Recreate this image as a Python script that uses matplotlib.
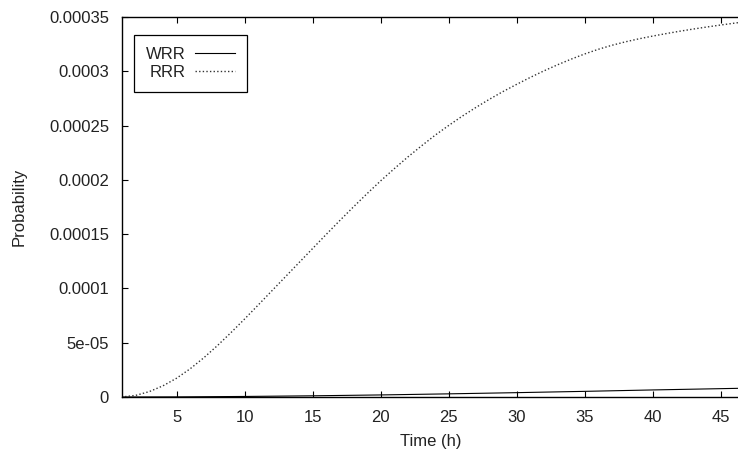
import matplotlib
matplotlib.use("Agg")
import matplotlib.pyplot as plt

# Values (time in hours, probability in units of 1e-5)
rrr_time = [0.95, 2, 3, 4, 5, 6, 7, 8, 9, 10, 11, 12, 13, 14, 15, 16, 17, 18,
            19, 20, 21, 22, 23, 24, 25, 26, 27, 28, 29, 30, 31, 32, 33, 34,
            35, 36, 37, 38, 39, 40, 41, 42, 43, 44, 45, 46.36]
rrr_prob_e5 = [0.0, 0.15, 0.5, 1.03, 1.73, 2.6, 3.61, 4.73, 5.93, 7.18,
               8.47, 9.77, 11.07, 12.37, 13.67, 14.97, 16.25, 17.5, 18.72,
               19.9, 21.02, 22.1, 23.12, 24.1, 25.0, 25.86, 26.66, 27.42,
               28.13, 28.79, 29.43, 30.03, 30.59, 31.11, 31.59, 32.02, 32.39,
               32.71, 32.99, 33.24, 33.47, 33.69, 33.89, 34.08, 34.26, 34.49]

wrr_time = [0.95, 5, 10, 15, 20, 25, 30, 35, 40, 46.36]
wrr_prob_e5 = [0.0, 0.01, 0.05, 0.11, 0.19, 0.29, 0.40, 0.52, 0.65, 0.80]

x_ticks = [5, 10, 15, 20, 25, 30, 35, 40, 45]
y_ticks = [0, 5e-5, 1e-4, 1.5e-4, 2e-4, 2.5e-4, 3e-4, 3.5e-4]
y_tick_labels = ["0", "5e-05", "0.0001", "0.00015", "0.0002", "0.00025",
                 "0.0003", "0.00035"]

text_color = "#222222"
plt.rcParams["font.family"] = ["Liberation Sans", "DejaVu Sans"]
plt.rcParams["font.size"] = 12

W, H = 738, 459
fig = plt.figure(figsize=(W / 100, H / 100), dpi=100)
ax = fig.add_axes([121.5 / W, (H - 397) / H, (739 - 121.5) / W, (397 - 17) / H])

ax.plot(wrr_time, [v * 1e-5 for v in wrr_prob_e5], color="black", lw=0.8,
        label="WRR")
ax.plot(rrr_time, [v * 1e-5 for v in rrr_prob_e5], color="#333333", lw=1.0,
        linestyle=(0, (1, 1.6)), label="RRR")

ax.set_xlim(rrr_time[0], rrr_time[-1])
ax.set_ylim(0, 3.5e-4)
ax.set_xticks(x_ticks)
ax.set_yticks(y_ticks)
ax.set_yticklabels(y_tick_labels)

ax.tick_params(direction="in", length=4.3, width=0.8, colors="black",
               labelcolor=text_color, top=True, right=False, pad=9)
ax.spines["right"].set_visible(False)
for s in ("left", "bottom", "top"):
    ax.spines[s].set_linewidth(1.0)

ax.set_xlabel("Time (h)", color=text_color, labelpad=7)
ax.set_ylabel("Probability", color=text_color, labelpad=16)

leg = ax.legend(loc="upper left", bbox_to_anchor=(134 / W, (H - 35) / H),
                bbox_transform=fig.transFigure, markerfirst=False,
                fancybox=False, framealpha=1, edgecolor="black",
                borderaxespad=0, borderpad=0.7, labelspacing=0.2,
                handlelength=2.4, handletextpad=0.6)
leg.get_frame().set_linewidth(0.9)
for t in leg.get_texts():
    t.set_color(text_color)

fig.savefig("out.png", dpi=100)
